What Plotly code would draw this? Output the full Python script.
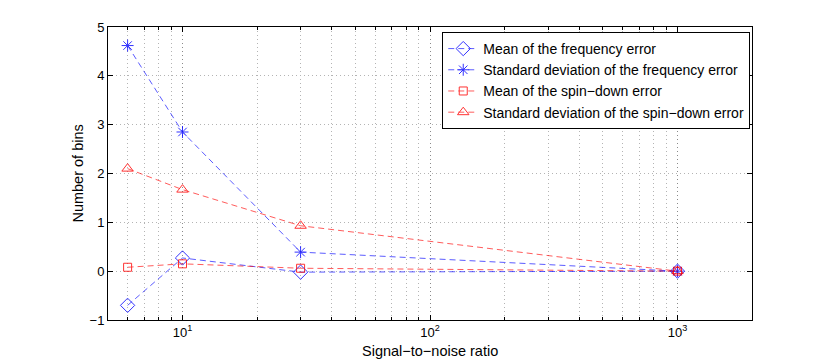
import plotly.graph_objects as go

snr = [6, 10, 30, 1000]
mean_freq = [-0.70, 0.27, -0.02, 0.0]
std_freq = [4.62, 2.85, 0.39, 0.0]
mean_spin = [0.08, 0.15, 0.06, 0.0]
std_spin = [2.10, 1.67, 0.93, 0.0]

series_names = [
    "Mean of the frequency error",
    "Standard deviation of the frequency error",
    "Mean of the spin\u2212down error",
    "Standard deviation of the spin\u2212down error",
]
x_major_ticks = [10, 100, 1000]
x_major_labels = ["10<sup>1</sup>", "10<sup>2</sup>", "10<sup>3</sup>"]
x_minor_ticks = [5, 6, 7, 8, 9, 20, 30, 40, 50, 60, 70, 80, 90,
                 200, 300, 400, 500, 600, 700, 800, 900, 2000]
y_ticks = [-1, 0, 1, 2, 3, 4, 5]
x_title = "Signal\u2212to\u2212noise ratio"
y_title = "Number of bins"

BLUE = "#0000ff"
RED = "#ff0000"
styles = [
    (mean_freq, BLUE, "diamond-open", 11),
    (std_freq, BLUE, "asterisk-open", 10),
    (mean_spin, RED, "square-open", 8),
    (std_spin, RED, "triangle-up-open", 10),
]

FAM = "Liberation Sans, Arial, Helvetica, sans-serif"

fig = go.Figure()
for name, (vals, color, sym, size) in zip(series_names, styles):
    fig.add_trace(go.Scatter(
        x=snr, y=vals, name=name, mode="lines+markers",
        line=dict(color=color, width=0.8, dash="6px,4px"),
        marker=dict(symbol=sym, size=size, color=color, line=dict(color=color, width=1)),
        opacity=0.8,
    ))

fig.add_annotation(text=x_title, xref="paper", yref="paper", x=0.5, y=-0.106,
                   xanchor="center", yanchor="middle", showarrow=False,
                   font=dict(family=FAM, size=14.5, color="black"))
fig.add_annotation(text=y_title, xref="paper", yref="paper", x=-0.048, y=0.5,
                   xanchor="center", yanchor="middle", showarrow=False, textangle=-90,
                   font=dict(family=FAM, size=14.5, color="black"))

# page body has an 8px default margin, so the figure is 8px smaller
fig.update_layout(
    width=822, height=353,
    margin=dict(l=100, r=78, t=19, b=41),
    paper_bgcolor="white", plot_bgcolor="white",
    font=dict(family=FAM, size=13, color="black"),
    showlegend=True,
    legend=dict(
        x=0.519, y=0.983, xanchor="left", yanchor="top",
        bordercolor="black", borderwidth=1, bgcolor="white",
        font=dict(family=FAM, size=14, color="black"),
        tracegroupgap=0, itemwidth=30,
    ),
    xaxis=dict(
        type="log", range=[0.69897, 3.30103], automargin=False,
        tickvals=x_major_ticks, ticktext=x_major_labels,
        tickfont=dict(family=FAM, size=13),
        ticks="inside", ticklen=5, tickcolor="black",
        showline=True, linecolor="black", linewidth=1, mirror="ticks",
        showgrid=True, gridcolor="#8a8a8a", griddash="1px,3px", gridwidth=1,
        zeroline=False,
        minor=dict(tickvals=x_minor_ticks, ticks="inside", ticklen=3,
                   tickcolor="black", showgrid=True, gridcolor="#b4b4b4",
                   griddash="1px,3px", gridwidth=1),
    ),
    yaxis=dict(
        range=[-1, 5], tickvals=y_ticks, automargin=False,
        tickfont=dict(family=FAM, size=13),
        ticks="inside", ticklen=5, tickcolor="black",
        showline=True, linecolor="black", linewidth=1, mirror="ticks",
        showgrid=True, gridcolor="#b4b4b4", griddash="1px,3px", gridwidth=1,
        zeroline=False,
    ),
)

fig.write_html("out.html")
